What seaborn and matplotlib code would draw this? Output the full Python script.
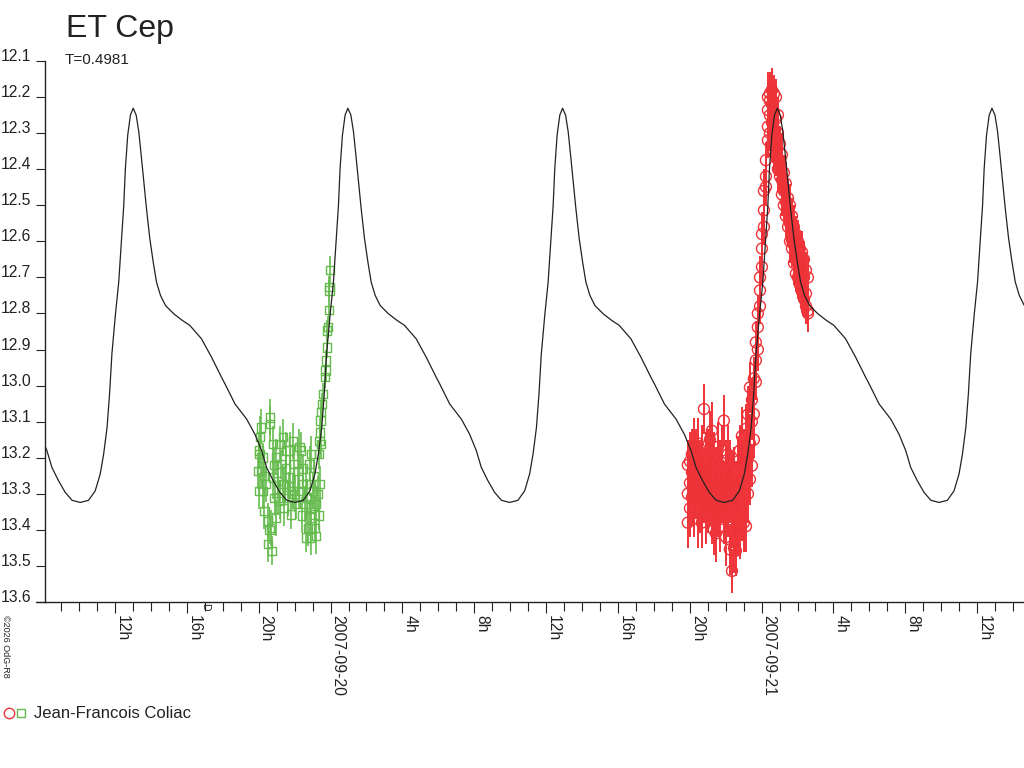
import numpy as np
import pandas as pd
import matplotlib
matplotlib.use("Agg")
import matplotlib.pyplot as plt
import matplotlib.dates as mdates
import seaborn as sns
from matplotlib.lines import Line2D
from matplotlib.legend_handler import HandlerTuple
from matplotlib.ticker import FuncFormatter

# ---- light curve model (one cycle, hours after maximum) ----
period_h = 0.4981 * 24
max_epoch_h = 24.964          # hours after 2007-09-19 00:00 UT
cycle_phase_h = [0.0, 0.167, 0.312, 0.446, 0.59, 0.74, 0.925, 1.114, 1.298, 1.521,
                 1.80, 2.262, 2.73, 3.153, 3.80, 4.36, 4.92, 5.11, 5.67, 6.32,
                 6.78, 7.15, 7.43, 7.80, 8.17, 8.55, 9.01, 9.47, 9.84, 10.12,
                 10.31, 10.50, 10.64, 10.77, 10.97, 11.15, 11.285, 11.43, 11.52, 11.65,
                 11.80]
cycle_mag = [12.231, 12.25, 12.296, 12.361, 12.435, 12.509, 12.592, 12.657, 12.713, 12.75,
             12.778, 12.801, 12.819, 12.833, 12.870, 12.921, 12.977, 12.995, 13.051, 13.093,
             13.135, 13.18, 13.227, 13.264, 13.296, 13.318, 13.324, 13.318, 13.292, 13.245,
             13.19, 13.116, 13.023, 12.912, 12.801, 12.713, 12.611, 12.5, 12.398, 12.306,
             12.25]

# ---- observations, hours after 2007-09-19 00:00 UT ----
green_hours = [19.95, 20.01, 20.04, 20.04, 20.08, 20.14, 20.14, 20.23, 20.23, 20.32,
               20.42, 20.51, 20.51, 20.60, 20.64, 20.64, 20.70, 20.75, 20.79, 20.79,
               20.88, 20.97, 20.97, 21.06, 21.16, 21.16, 21.25, 21.34, 21.34, 21.44,
               21.53, 21.53, 21.62, 21.72, 21.72, 21.81, 21.90, 21.90, 21.99, 22.09,
               22.18, 22.27, 22.27, 22.37, 22.46, 22.46, 22.55, 22.65, 22.65, 22.74,
               22.83, 22.83, 22.92, 22.92, 22.92, 23.01, 23.11, 23.11, 23.20, 23.20,
               23.35, 23.35, 23.39, 23.39, 23.43, 23.44, 23.48, 23.48, 23.54, 23.57,
               23.68, 23.72, 23.75, 23.79, 23.82, 23.85, 23.91, 23.94, 23.94, 23.98,
               20.30, 20.86, 21.10, 21.40, 21.68, 22.00, 22.40, 22.70, 23.05, 23.28]
green_mag = [13.236, 13.18, 13.19, 13.292, 13.143, 13.116, 13.236, 13.292, 13.199, 13.347,
             13.273, 13.375, 13.44, 13.40, 13.088, 13.107, 13.394, 13.458, 13.162, 13.255,
             13.311, 13.366, 13.199, 13.264, 13.32, 13.162, 13.218, 13.273, 13.143, 13.273,
             13.23, 13.18, 13.311, 13.18, 13.255, 13.357, 13.153, 13.292, 13.218, 13.329,
             13.236, 13.171, 13.292, 13.18, 13.23, 13.273, 13.329, 13.273, 13.421, 13.394,
             13.366, 13.218, 13.338, 13.19, 13.421, 13.292, 13.394, 13.357, 13.417, 13.329,
             13.36, 13.19, 13.273, 13.153, 13.13, 13.097, 13.162, 13.074, 13.051, 13.023,
             12.977, 12.958, 12.93, 12.894, 12.847, 12.838, 12.79, 12.736, 12.727, 12.68,
             13.25, 13.22, 13.31, 13.34, 13.28, 13.30, 13.36, 13.31, 13.25, 13.30]
green_err = [0.05, 0.05, 0.04, 0.05, 0.06, 0.05, 0.05, 0.05, 0.04, 0.05,
             0.05, 0.05, 0.05, 0.04, 0.05, 0.05, 0.05, 0.04, 0.05, 0.06,
             0.05, 0.05, 0.05, 0.04, 0.05, 0.05, 0.04, 0.05, 0.05, 0.05,
             0.04, 0.05, 0.05, 0.05, 0.06, 0.04, 0.05, 0.05, 0.05, 0.04,
             0.05, 0.05, 0.05, 0.05, 0.04, 0.05, 0.05, 0.05, 0.04, 0.05,
             0.05, 0.05, 0.04, 0.05, 0.05, 0.05, 0.04, 0.05, 0.05, 0.05,
             0.04, 0.04, 0.05, 0.04, 0.04, 0.04, 0.04, 0.03, 0.03, 0.03,
             0.03, 0.03, 0.03, 0.03, 0.03, 0.03, 0.03, 0.03, 0.03, 0.04,
             0.05, 0.05, 0.05, 0.05, 0.04, 0.05, 0.05, 0.05, 0.05, 0.05]

red_hours = [43.89, 43.89, 43.89, 44.01, 44.01, 44.01, 44.12, 44.12, 44.12, 44.23, 44.23, 44.23,
             44.34, 44.34, 44.34, 44.45, 44.45, 44.45, 44.56, 44.56, 44.56, 44.67, 44.67, 44.67,
             44.79, 44.79, 44.79, 44.90, 44.90, 44.90, 45.01, 45.01, 45.01, 45.12, 45.12, 45.12,
             45.23, 45.23, 45.23, 45.34, 45.34, 45.34, 45.45, 45.45, 45.45, 45.57, 45.57, 45.57,
             45.68, 45.68, 45.68, 45.79, 45.79, 45.79, 45.90, 45.90, 45.90, 46.01, 46.01, 46.01,
             46.12, 46.12, 46.12, 46.23, 46.23, 46.23, 46.35, 46.35, 46.35, 46.46, 46.46, 46.46,
             46.57, 46.57, 46.57, 46.68, 46.68, 46.68, 46.79, 46.79, 46.79, 46.90, 46.90, 46.90,
             47.01, 47.01, 47.01, 47.13, 47.13, 47.13, 47.24, 47.24, 47.24, 47.35, 47.35, 47.35,
             47.46, 47.46, 47.46, 47.57, 47.57, 47.57, 47.68, 47.68, 47.68, 47.79, 47.79, 47.79,
             47.91, 47.91, 47.91, 48.02, 48.02, 48.02, 48.13, 48.13, 48.13, 48.24, 48.24, 48.24,
             48.35, 48.35, 48.35, 48.35, 48.46, 48.46, 48.46, 48.46, 48.57, 48.57, 48.57, 48.57,
             48.69, 48.69, 48.69, 48.69, 48.80, 48.80, 48.80, 48.80, 48.91, 48.91, 48.91, 48.91,
             49.02, 49.02, 49.02, 49.13, 49.13, 49.13, 49.24, 49.24, 49.24, 49.35, 49.35, 49.35,
             49.47, 49.47, 49.47, 49.58, 49.58, 49.58, 49.69, 49.69, 49.69, 49.80, 49.80, 49.80,
             49.91, 49.91, 49.91, 50.02, 50.02, 50.02, 50.13, 50.13, 50.13, 50.25, 50.25, 50.25,
             50.36, 50.36, 50.36, 50.47, 50.47, 50.47, 50.58, 50.58, 50.58]
red_mag = [13.22, 13.30, 13.38, 13.21, 13.27, 13.34, 13.24, 13.31, 13.19, 13.28, 13.35, 13.17,
           13.23, 13.30, 13.20, 13.26, 13.37, 13.16, 13.29, 13.22, 13.33, 13.18, 13.27, 13.38,
           13.065, 13.25, 13.31, 13.21, 13.30, 13.36, 13.19, 13.28, 13.34, 13.24, 13.32, 13.15,
           13.125, 13.27, 13.36, 13.20, 13.30, 13.40, 13.41, 13.24, 13.31, 13.17, 13.28, 13.35,
           13.22, 13.33, 13.39, 13.26, 13.18, 13.30, 13.097, 13.29, 13.37, 13.23, 13.31, 13.42,
           13.27, 13.35, 13.19, 13.454, 13.30, 13.22, 13.514, 13.38, 13.26, 13.45, 13.33, 13.24,
           13.458, 13.29, 13.36, 13.39, 13.21, 13.31, 13.412, 13.27, 13.18, 13.35, 13.22, 13.14,
           13.30, 13.19, 13.38, 13.39, 13.25, 13.12, 13.30, 13.20, 13.08, 13.005, 13.16, 13.26,
           13.222, 13.10, 13.04, 13.079, 12.98, 13.15, 12.93, 12.99, 12.88, 12.838, 12.90, 12.80,
           12.736, 12.78, 12.70, 12.671, 12.62, 12.58, 12.514, 12.56, 12.46, 12.449, 12.375, 12.42,
           12.282, 12.32, 12.236, 12.20, 12.19, 12.21, 12.25, 12.30, 12.18, 12.22, 12.27, 12.33,
           12.19, 12.24, 12.29, 12.35, 12.20, 12.26, 12.32, 12.36, 12.25, 12.30, 12.375, 12.40,
           12.33, 12.375, 12.42, 12.36, 12.43, 12.47, 12.41, 12.46, 12.50, 12.44, 12.49, 12.53,
           12.48, 12.514, 12.56, 12.50, 12.55, 12.60, 12.53, 12.597, 12.62, 12.56, 12.61, 12.66,
           12.58, 12.64, 12.69, 12.60, 12.66, 12.70, 12.62, 12.671, 12.72, 12.63, 12.69, 12.74,
           12.65, 12.70, 12.76, 12.68, 12.745, 12.78, 12.70, 12.792, 12.80]
red_err = [0.07, 0.08, 0.07, 0.08, 0.07, 0.08, 0.07, 0.08, 0.07, 0.08, 0.07, 0.08,
           0.08, 0.07, 0.08, 0.07, 0.08, 0.07, 0.08, 0.07, 0.08, 0.07, 0.08, 0.07,
           0.07, 0.08, 0.07, 0.08, 0.07, 0.08, 0.07, 0.08, 0.07, 0.08, 0.07, 0.08,
           0.08, 0.07, 0.08, 0.07, 0.08, 0.07, 0.08, 0.07, 0.08, 0.07, 0.08, 0.07,
           0.07, 0.08, 0.07, 0.08, 0.07, 0.08, 0.07, 0.08, 0.07, 0.08, 0.07, 0.08,
           0.08, 0.07, 0.08, 0.07, 0.08, 0.07, 0.06, 0.07, 0.08, 0.07, 0.08, 0.07,
           0.07, 0.08, 0.07, 0.08, 0.07, 0.08, 0.07, 0.08, 0.07, 0.08, 0.07, 0.08,
           0.08, 0.07, 0.08, 0.07, 0.08, 0.07, 0.08, 0.07, 0.08, 0.07, 0.08, 0.07,
           0.06, 0.05, 0.06, 0.05, 0.06, 0.05, 0.06, 0.05, 0.06, 0.05, 0.06, 0.05,
           0.05, 0.05, 0.06, 0.05, 0.05, 0.06, 0.05, 0.05, 0.06, 0.05, 0.05, 0.06,
           0.06, 0.05, 0.06, 0.07, 0.06, 0.05, 0.06, 0.05, 0.06, 0.05, 0.06, 0.05,
           0.05, 0.06, 0.05, 0.06, 0.05, 0.06, 0.05, 0.06, 0.05, 0.06, 0.05, 0.06,
           0.05, 0.06, 0.05, 0.06, 0.05, 0.06, 0.05, 0.06, 0.05, 0.06, 0.05, 0.06,
           0.05, 0.06, 0.05, 0.06, 0.05, 0.06, 0.05, 0.06, 0.05, 0.06, 0.05, 0.06,
           0.05, 0.06, 0.05, 0.06, 0.05, 0.06, 0.05, 0.06, 0.05, 0.06, 0.05, 0.06,
           0.05, 0.06, 0.05, 0.05, 0.06, 0.05, 0.06, 0.05, 0.05]

y_ticks = [12.1, 12.2, 12.3, 12.4, 12.5, 12.6, 12.7, 12.8, 12.9, 13.0,
           13.1, 13.2, 13.3, 13.4, 13.5, 13.6]

GREEN = "#66bb4f"
RED = "#ee3338"
INK = "#222222"
base = pd.Timestamp("2007-09-19 00:00")


def to_time(hours):
    return base + pd.to_timedelta(np.asarray(hours, dtype=float), unit="h")


# tile the model cycle over the plotted window
model_h = []
model_m = []
for n in range(-2, 4):
    for ph, m in zip(cycle_phase_h, cycle_mag):
        model_h.append(max_epoch_h + n * period_h + ph)
        model_m.append(m)
model = pd.DataFrame({"time": to_time(model_h), "mag": model_m})
green = pd.DataFrame({"time": to_time(green_hours), "mag": green_mag, "err": green_err})
red = pd.DataFrame({"time": to_time(red_hours), "mag": red_mag, "err": red_err})

sns.set_style("white")
plt.rcParams["font.family"] = ["Liberation Sans", "DejaVu Sans"]

fig = plt.figure(figsize=(10.24, 7.68), dpi=100)
ax = fig.add_axes([45 / 1024, 166 / 768, 979 / 1024, 541 / 768])

ax.errorbar(green["time"], green["mag"], yerr=green["err"], fmt="none",
            ecolor=GREEN, elinewidth=1.2, capsize=0, zorder=2)
sns.scatterplot(data=green, x="time", y="mag", marker="s", s=36,
                facecolor="none", edgecolor=GREEN, linewidth=1.0, ax=ax, zorder=3)
ax.errorbar(red["time"], red["mag"], yerr=red["err"], fmt="none",
            ecolor=RED, elinewidth=1.4, capsize=0, zorder=2)
sns.scatterplot(data=red, x="time", y="mag", marker="o", s=62,
                facecolor="none", edgecolor=RED, linewidth=1.0, ax=ax, zorder=3)
sns.lineplot(data=model, x="time", y="mag", sort=False, estimator=None,
             color=INK, linewidth=0.9, ax=ax, zorder=4)

ax.set_xlim(to_time([8.10])[0], to_time([62.61])[0])
ax.set_ylim(13.6, 12.1)
ax.set_xlabel("")
ax.set_ylabel("")

for side in ["top", "right"]:
    ax.spines[side].set_visible(False)
for side in ["left", "bottom"]:
    ax.spines[side].set_color(INK)
    ax.spines[side].set_linewidth(1.0)

ax.set_yticks(y_ticks)
ax.yaxis.set_major_formatter(FuncFormatter(lambda v, p: f"{v:.1f}"))
ax.xaxis.set_major_locator(mdates.HourLocator(byhour=[0, 4, 8, 12, 16, 20]))
ax.xaxis.set_minor_locator(mdates.HourLocator())


def fmt_time(v, pos):
    d = mdates.num2date(v)
    if d.hour == 0:
        return d.strftime("%Y-%m-%d")
    return f"{d.hour}h"


ax.xaxis.set_major_formatter(FuncFormatter(fmt_time))
ax.tick_params(axis="both", which="both", bottom=True, left=True, direction="out",
               color=INK, width=0.8, labelcolor=INK, labelsize=11.3)
ax.tick_params(axis="y", length=6.5, pad=3.5)
ax.tick_params(axis="x", which="major", length=8, pad=1.5)
ax.tick_params(axis="x", which="minor", length=6.5)
for lab in ax.get_xticklabels():
    lab.set_rotation(270)
    lab.set_ha("left")
    lab.set_va("top")
for lab in ax.get_yticklabels():
    lab.set_va("baseline")

# x axis line runs a little past the y axis
ax.plot([-9 / 979, 0], [0, 0], transform=ax.transAxes, color=INK,
        linewidth=1.0, clip_on=False)

fig.text(66 / 1024, 1 - 14 / 768, "ET Cep", fontsize=23, color=INK, va="top", ha="left")
fig.text(65 / 1024, 1 - 64 / 768, "T=0.4981", fontsize=11, color=INK,
         va="baseline", ha="left")
fig.text(1 / 1024, 1 - 615 / 768, "©2026 OdG-R8", fontsize=6.5, color=INK,
         rotation=270, va="top", ha="left")
fig.text(200 / 1024, 1 - 603 / 768, "D", fontsize=7.5, color=INK,
         rotation=270, va="top", ha="left")

h_red = Line2D([], [], marker="o", ls="none", mfc="none", mec=RED, ms=7.5, mew=1.0)
h_green = Line2D([], [], marker="s", ls="none", mfc="none", mec=GREEN, ms=5.5, mew=1.0)
fig.legend(handles=[(h_red, h_green)], labels=["Jean-Francois Coliac"],
           handler_map={tuple: HandlerTuple(ndivide=None, pad=0.15)},
           loc="center left", bbox_to_anchor=(4 / 1024, 1 - 714 / 768),
           frameon=False, handlelength=1.3, handletextpad=0.5,
           borderpad=0, borderaxespad=0, fontsize=12, labelcolor=INK)

fig.savefig("out.png", dpi=100)
